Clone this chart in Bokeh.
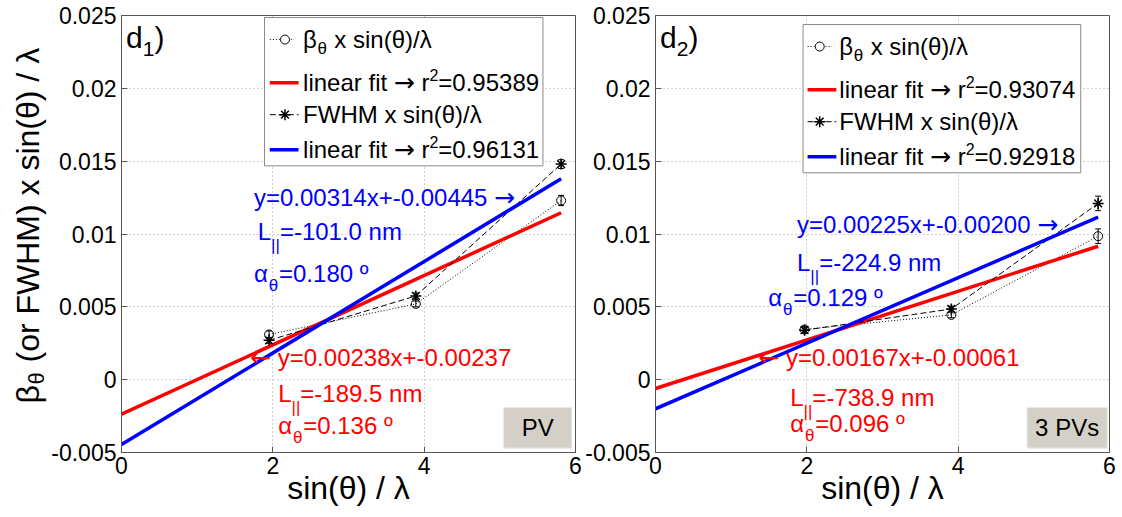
import math
from bokeh.plotting import figure
from bokeh.models import ColumnDataSource, Label, FixedTicker, Whisker, TeeHead, Range1d
from bokeh.layouts import row
from bokeh.embed import file_html
from bokeh.resources import INLINE

FONT = "Liberation Sans"
ARROWFONT = "DejaVu Sans"

# ---------------- data ----------------
# panel d1 (PV)
x_d1 = [1.95, 3.89, 5.81]
beta_d1 = [0.0031, 0.0052, 0.0123]
beta_err_d1 = [0.00025, 0.00020, 0.00035]
fwhm_d1 = [0.0027, 0.00575, 0.0148]
fwhm_err_d1 = [0.00020, 0.00020, 0.00030]
fit_beta_d1 = (0.00238, -0.00237)
fit_fwhm_d1 = (0.00314, -0.00445)
r2_d1 = ("0.95389", "0.96131")
L_d1 = ("-189.5", "-101.0")
alpha_d1 = ("0.136", "0.180")

# panel d2 (3 PVs)
x_d2 = [1.97, 3.91, 5.85]
beta_d2 = [0.00345, 0.00445, 0.00985]
beta_err_d2 = [0.00020, 0.00020, 0.00050]
fwhm_d2 = [0.0034, 0.00485, 0.0121]
fwhm_err_d2 = [0.00020, 0.00020, 0.00050]
fit_beta_d2 = (0.00167, -0.00061)
fit_fwhm_d2 = (0.00225, -0.00200)
r2_d2 = ("0.93074", "0.92918")
L_d2 = ("-738.9", "-224.9")
alpha_d2 = ("0.096", "0.129")

y_ticks = [-0.005, 0.0, 0.005, 0.01, 0.015, 0.02, 0.025]
y_tick_labels = ["-0.005", "0", "0.005", "0.01", "0.015", "0.02", "0.025"]
x_ticks = [0, 2, 4, 6]
x_tick_labels = ["0", "2", "4", "6"]

RED = "#ff0000"
BLUE = "#0000ff"
AXC = "#555555"

# approximate advance widths (em) used to chain text pieces
W = {"0": .556, "1": .556, "2": .556, "3": .556, "4": .556, "5": .556, "6": .556,
     "7": .556, "8": .556, "9": .556, ".": .278, " ": .278, "=": .584, "-": .333,
     "+": .584, "x": .5, "y": .5, "l": .222, "i": .222, "n": .556, "e": .556,
     "a": .556, "r": .333, "f": .278, "t": .278, "m": .833, "s": .5, "(": .333,
     ")": .333, "/": .278, "F": .611, "W": .944, "H": .722, "M": .833, "L": .556,
     "|": .26, "º": .365, "o": .556, "d": .556, "β": .6, "α": .62, "θ": .6, "λ": .56}


def text_w(s, size, font=FONT):
    if font == ARROWFONT:
        return sum(0.838 if c in "→←" else 0.318 for c in s) * size
    return sum(W.get(c, 0.556) for c in s) * size


def lab(p, x, y, text, color="black", size=24, dx=0, dy=0, align="left",
        angle=0.0, font=FONT):
    p.add_layout(Label(x=x, y=y, x_offset=dx, y_offset=dy, text=text,
                       text_color=color, text_font=font,
                       text_font_size=f"{size}px", text_align=align,
                       text_baseline="middle", angle=angle))


def rich(p, x, y, parts, color="black"):
    """parts: (text, size[, dy[, font]]) chained left to right."""
    dx = 0.0
    for part in parts:
        t, size = part[0], part[1]
        dy = part[2] if len(part) > 2 else 0
        font = part[3] if len(part) > 3 else FONT
        stripped = t.lstrip(" ")
        dx += (len(t) - len(stripped)) * W[" "] * size
        lab(p, x, y, stripped, color, size, dx=dx, dy=dy, font=font)
        dx += text_w(stripped, size, font)


def make_panel(tag, x, beta, beta_err, fwhm, fwhm_err, fit_b, fit_f, r2, L, alpha,
               box_text, lay, left_border, right_border):
    p = figure(frame_width=454, frame_height=437,
               x_range=Range1d(0, 6), y_range=Range1d(-0.005, 0.025),
               output_backend="svg", toolbar_location=None,
               min_border_left=left_border, min_border_right=right_border,
               min_border_top=15, min_border_bottom=10,
               background_fill_color="white", border_fill_color="white")
    p.outline_line_color = AXC
    for ax in (p.xaxis, p.yaxis):
        ax.axis_line_color = AXC
        ax.major_tick_line_color = AXC
        ax.major_tick_in = 6
        ax.major_tick_out = 0
        ax.minor_tick_line_color = None
        ax.major_label_text_font = FONT
        ax.major_label_text_font_size = "23px"
        ax.major_label_text_color = "black"
    p.xaxis.ticker = FixedTicker(ticks=x_ticks)
    p.xaxis.major_label_overrides = {float(t): s for t, s in zip(x_ticks, x_tick_labels)}
    p.yaxis.ticker = FixedTicker(ticks=y_ticks)
    p.yaxis.major_label_overrides = {float(t): s for t, s in zip(y_ticks, y_tick_labels)}
    p.xaxis.major_label_standoff = 4
    p.yaxis.major_label_standoff = 5
    p.xaxis.axis_label = "sin(θ) / λ"
    p.xaxis.axis_label_text_font = FONT
    p.xaxis.axis_label_text_font_size = "32px"
    p.xaxis.axis_label_text_font_style = "normal"
    p.xaxis.axis_label_text_color = "black"
    p.xaxis.axis_label_standoff = -7
    p.grid.grid_line_color = "#a0a0a0"
    p.grid.grid_line_dash = "1 3"
    p.grid.grid_line_width = 1

    # legend box and info box (drawn first, under the data)
    lb = lay["legend_box"]
    p.quad(left=[lb[0]], right=[lb[1]], bottom=[lb[2]], top=[lb[3]],
           fill_color="white", line_color="#8a8a8a", line_width=1)
    bb = lay["box"]
    p.quad(left=[bb[0]], right=[bb[1]], bottom=[bb[2]], top=[bb[3]],
           fill_color="#d4d0c8", line_color="#ecebe6", line_width=1)

    # data
    src_b = ColumnDataSource(dict(x=x, y=beta,
                                  lo=[v - e for v, e in zip(beta, beta_err)],
                                  hi=[v + e for v, e in zip(beta, beta_err)]))
    src_f = ColumnDataSource(dict(x=x, y=fwhm,
                                  lo=[v - e for v, e in zip(fwhm, fwhm_err)],
                                  hi=[v + e for v, e in zip(fwhm, fwhm_err)]))
    fx = [0.0, max(x)]
    p.line("x", "y", source=src_b, line_color="black", line_dash="1 2", line_width=1)
    p.scatter("x", "y", source=src_b, marker="circle", size=9,
              fill_color=None, line_color="black", line_width=1)
    p.add_layout(Whisker(base="x", upper="hi", lower="lo", source=src_b,
                         line_color="black", line_width=1,
                         upper_head=TeeHead(size=6, line_color="black"),
                         lower_head=TeeHead(size=6, line_color="black")))
    p.line(fx, [fit_b[0] * v + fit_b[1] for v in fx], line_color=RED, line_width=3.5)
    p.line("x", "y", source=src_f, line_color="black", line_dash="6 3", line_width=1)
    p.scatter("x", "y", source=src_f, marker="asterisk", size=11,
              line_color="black", line_width=1.5)
    p.add_layout(Whisker(base="x", upper="hi", lower="lo", source=src_f,
                         line_color="black", line_width=1,
                         upper_head=TeeHead(size=6, line_color="black"),
                         lower_head=TeeHead(size=6, line_color="black")))
    p.line(fx, [fit_f[0] * v + fit_f[1] for v in fx], line_color=BLUE, line_width=3.5)

    # legend entries
    ey = lay["entry_y"]
    s0, s1 = lay["sample_x"]
    mx = lay["marker_x"]
    tx = lay["text_x"]
    p.line([s0, s1 - 0.06], [ey[0], ey[0]], line_color="black", line_dash="1 2", line_width=1)
    p.scatter([mx], [ey[0]], marker="circle", size=9, fill_color="white", line_color="black")
    p.line([s0, s1], [ey[1], ey[1]], line_color=RED, line_width=3.5)
    p.line([s0, s1], [ey[2], ey[2]], line_color="black", line_dash="6 3", line_width=1)
    p.scatter([mx], [ey[2]], marker="asterisk", size=11, line_color="black", line_width=1.5)
    p.line([s0, s1], [ey[3], ey[3]], line_color=BLUE, line_width=3.5)
    rich(p, tx, ey[0], [("β", 24), ("θ", 17, -9), (" x sin(θ)/λ", 24)])
    for e, r in ((1, r2[0]), (3, r2[1])):
        rich(p, tx, ey[e], [("linear fit ", 24), ("→", 25, 0, ARROWFONT), (" r", 24),
                            ("2", 16, 8), (f"={r}", 24)])
    rich(p, tx, ey[2], [("FWHM x sin(θ)/λ", 24)])

    # fit annotations
    bx, by = lay["blue_eq"]
    rich(p, bx, by, [(f"y={fit_f[0]:.5f}x+{fit_f[1]:.5f} ", 24), ("→", 25, 0, ARROWFONT)], BLUE)
    bx, by = lay["blue_L"]
    rich(p, bx, by, [("L", 24), ("||", 17, -14), (f"={L[1]} nm", 24)], BLUE)
    bx, by = lay["blue_a"]
    rich(p, bx, by, [("α", 24), ("θ", 17, -12), (f"={alpha[1]} º", 24)], BLUE)
    rx, ry = lay["red_eq"]
    rich(p, rx, ry, [("←", 25, 0, ARROWFONT), (f" y={fit_b[0]:.5f}x+{fit_b[1]:.5f}", 24)], RED)
    rx, ry = lay["red_L"]
    rich(p, rx, ry, [("L", 24), ("||", 17, -14), (f"={L[0]} nm", 24)], RED)
    rx, ry = lay["red_a"]
    rich(p, rx, ry, [("α", 24), ("θ", 17, -12), (f"={alpha[0]} º", 24)], RED)

    # info box text and panel tag
    lab(p, (bb[0] + bb[1]) / 2, (bb[2] + bb[3]) / 2, box_text, "black", 24, align="center")
    tx0, ty0 = lay["tag"]
    rich(p, tx0, ty0, [("d", 30), (tag, 21, -12), (")", 30)])
    return p


# y-axis label strip (rotated text, with subscript)
ylab = figure(frame_width=48, frame_height=512, x_range=Range1d(0, 48),
              y_range=Range1d(0, 512), x_axis_type=None, y_axis_type=None,
              output_backend="svg", toolbar_location=None, min_border=0,
              outline_line_color=None, background_fill_color="white",
              border_fill_color="white")
ylab.grid.visible = False
A = math.pi / 2
lab(ylab, 27, 124, "β", "black", 32, angle=A)
lab(ylab, 27, 124, "θ", "black", 22, dx=9, dy=19, angle=A)
lab(ylab, 27, 124, "(or FWHM) x sin(θ) / λ", "black", 32, dy=41, angle=A)

lay1 = dict(legend_box=(1.89, 5.57, 0.01468, 0.02486),
            entry_y=(0.02335, 0.02039, 0.01819, 0.01578),
            sample_x=(1.96, 2.34), marker_x=2.16, text_x=2.40,
            blue_eq=(1.75, 0.01254), blue_L=(1.80, 0.01014), blue_a=(1.75, 0.00732),
            red_eq=(1.70, 0.00153), red_L=(2.07, -0.00094), red_a=(2.07, -0.00314),
            box=(5.05, 5.95, -0.0047, -0.0019), tag=(0.06, 0.0235))
lay2 = dict(legend_box=(1.95, 5.62, 0.0142, 0.02438),
            entry_y=(0.02287, 0.01991, 0.01771, 0.0153),
            sample_x=(2.01, 2.39), marker_x=2.17, text_x=2.43,
            blue_eq=(1.87, 0.01062), blue_L=(1.87, 0.00807), blue_a=(1.49, 0.00566),
            red_eq=(1.36, 0.00153), red_L=(1.78, -0.00122), red_a=(1.78, -0.0030),
            box=(4.91, 5.97, -0.0047, -0.0019), tag=(0.06, 0.0235))

p1 = make_panel("1", x_d1, beta_d1, beta_err_d1, fwhm_d1, fwhm_err_d1,
                fit_beta_d1, fit_fwhm_d1, r2_d1, L_d1, alpha_d1, "PV", lay1, 71, 7)
p2 = make_panel("2", x_d2, beta_d2, beta_err_d2, fwhm_d2, fwhm_err_d2,
                fit_beta_d2, fit_fwhm_d2, r2_d2, L_d2, alpha_d2, "3 PVs", lay2, 70, 8)

layout = row(ylab, p1, p2)
open("out.html", "w").write(file_html(layout, INLINE))
